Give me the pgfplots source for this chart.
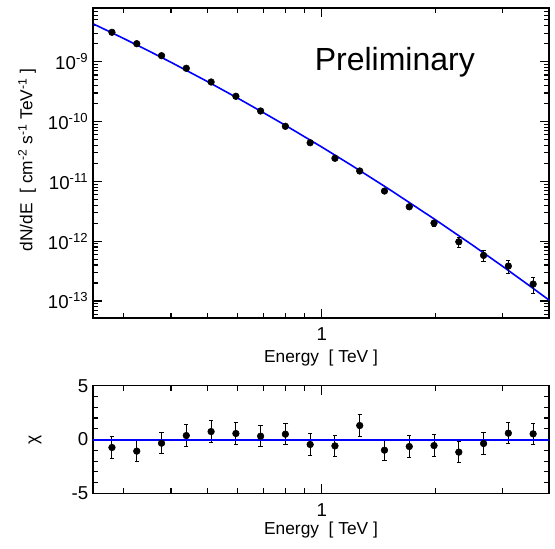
\documentclass[border=0pt]{standalone}
\usepackage{fontspec}
\setmainfont{Liberation Sans}
\usepackage{pgfplots}
\pgfplotsset{compat=1.18}
\definecolor{fitblue}{RGB}{0,0,255}
\pgfplotstableread{
E F dF
0.2794 3.10e-9 0.05e-9
0.3249 2.00e-9 0.035e-9
0.3777 1.26e-9 0.025e-9
0.4390 7.76e-10 0.17e-10
0.5104 4.58e-10 0.11e-10
0.5934 2.64e-10 0.07e-10
0.6897 1.50e-10 0.045e-10
0.8016 8.32e-11 0.3e-11
0.9319 4.42e-11 0.18e-11
1.0834 2.43e-11 0.11e-11
1.2595 1.49e-11 0.08e-11
1.4640 6.88e-12 0.45e-12
1.7022 3.76e-12 0.3e-12
1.9785 2.01e-12 0.25e-12
2.3000 9.77e-13 1.9e-13
2.6737 5.79e-13 1.2e-13
3.1081 3.84e-13 0.9e-13
3.6134 1.92e-13 0.6e-13
}\fluxdata
\pgfplotstableread{
E C dC
0.2794 -0.74 1
0.3249 -1.08 1
0.3777 -0.34 1
0.4390 0.37 1
0.5104 0.74 1
0.5934 0.56 1
0.6897 0.31 1
0.8016 0.50 1
0.9319 -0.46 1
1.0834 -0.59 1
1.2595 1.30 1
1.4640 -0.99 1
1.7022 -0.65 1
1.9785 -0.56 1
2.3000 -1.17 1
2.6737 -0.37 1
3.1081 0.59 1
3.6134 0.53 1
}\chidata
\begin{document}
\begin{tikzpicture}
\useasboundingbox (0pt,0pt) rectangle (416.25pt,411pt);
\begin{axis}[at={(69.75pt,172.5pt)}, anchor=south west,
  scale only axis, width=342pt, height=232.5pt,
  xmode=log, xmin=0.249, xmax=3.98,
  xtick={1}, xticklabels={1},
  minor xtick={0.3,0.4,0.5,0.6,0.7,0.8,0.9,2,3},
  tick align=inside,
  axis line style={line width=1pt},
  major tick length=7pt, minor tick length=4pt,
  tick style={black, line width=0.8pt},
  tick label style={font=\fontsize{14}{16}\selectfont},
  label style={font=\fontsize{13}{16}\selectfont},
  xticklabel style={yshift=-4pt},
  xlabel={Energy~~[ TeV ]},
  ymode=log, ymin=5.2e-14, ymax=7.9e-9,
  ytick={1e-13,1e-12,1e-11,1e-10,1e-9},
  yticklabels={10\textsuperscript{-13},10\textsuperscript{-12},10\textsuperscript{-11},10\textsuperscript{-10},10\textsuperscript{-9}},
  minor ytick={6e-14,7e-14,8e-14,9e-14,2e-13,3e-13,4e-13,5e-13,6e-13,7e-13,8e-13,9e-13,2e-12,3e-12,4e-12,5e-12,6e-12,7e-12,8e-12,9e-12,2e-11,3e-11,4e-11,5e-11,6e-11,7e-11,8e-11,9e-11,2e-10,3e-10,4e-10,5e-10,6e-10,7e-10,8e-10,9e-10,2e-9,3e-9,4e-9,5e-9,6e-9,7e-9},
  xlabel style={at={(axis description cs:0.5,0)}, anchor=center, yshift=-29.8pt},
  ylabel={dN/dE~~[ cm\textsuperscript{-2} s\textsuperscript{-1} TeV\textsuperscript{-1} ]},
  ylabel style={at={(axis description cs:-0.1447,0.51)}, anchor=center}]
\addplot[fitblue, line width=1.2pt, no marks] coordinates {
(0.25,4.258e-9) (0.3,2.445e-9) (0.35,1.505e-9) (0.4,9.77e-10) (0.5,4.631e-10)
(0.6,2.460e-10) (0.7,1.418e-10) (0.8,8.70e-11) (1.0,3.75e-11) (1.2,1.842e-11)
(1.5,7.51e-12) (2.0,2.259e-12) (2.5,8.59e-13) (3.0,3.81e-13) (3.5,1.884e-13) (4.0,1.013e-13)};
\addplot[only marks, mark=*, mark size=2.5pt, black,
    error bars/.cd, y dir=both, y explicit,
    error bar style={line width=0.7pt, black},
    error mark options={rotate=90, line width=0.7pt, mark size=1.6pt, black}]
  table[x=E, y=F, y error=dF] {\fluxdata};
\node[anchor=base west, font=\fontsize{24}{28}\selectfont] at (rel axis cs:0.476,0.798) {Preliminary};
\end{axis}
\begin{axis}[at={(69.75pt,41pt)}, anchor=south west,
  scale only axis, width=342pt, height=80.7pt,
  xmode=log, xmin=0.249, xmax=3.98,
  xtick={1}, xticklabels={1},
  minor xtick={0.3,0.4,0.5,0.6,0.7,0.8,0.9,2,3},
  tick align=inside,
  axis line style={line width=1pt},
  major tick length=7pt, minor tick length=4pt,
  tick style={black, line width=0.8pt},
  tick label style={font=\fontsize{14}{16}\selectfont},
  label style={font=\fontsize{13}{16}\selectfont},
  xticklabel style={yshift=-4pt},
  xlabel={Energy~~[ TeV ]},
  ymin=-5, ymax=5, ytick={-5,0,5}, yticklabels={-5,0,5}, minor y tick num=4,
  xlabel style={at={(axis description cs:0.5,0)}, anchor=center, yshift=-27.5pt},
  ylabel={χ},
  ylabel style={at={(axis description cs:-0.127,0.5)}, anchor=center}]
\addplot[only marks, mark=*, mark size=2.5pt, black,
    error bars/.cd, y dir=both, y explicit,
    error bar style={line width=0.7pt, black},
    error mark options={rotate=90, line width=0.7pt, mark size=1.6pt, black}]
  table[x=E, y=C, y error=dC] {\chidata};
\addplot[fitblue, line width=1.5pt, no marks] coordinates {(0.249,0) (3.98,0)};
\end{axis}
\end{tikzpicture}
\end{document}
